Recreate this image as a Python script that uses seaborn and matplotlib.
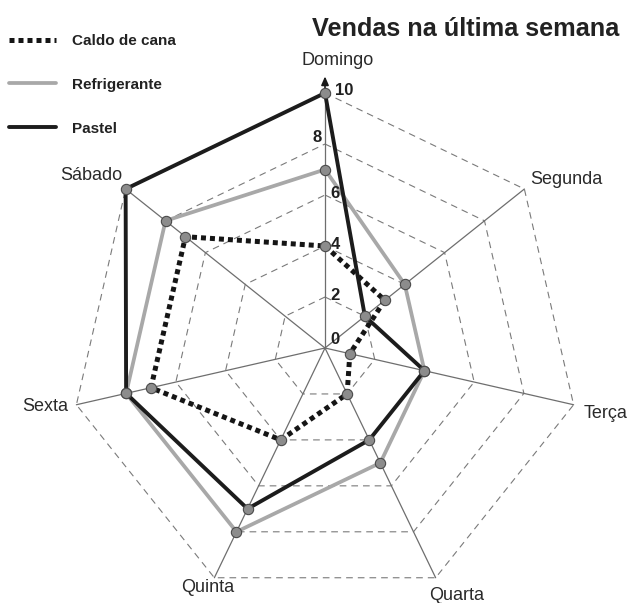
import numpy as np
import pandas as pd
import matplotlib.pyplot as plt
import seaborn as sns
from matplotlib.lines import Line2D

sns.set_style("white")
plt.rcParams['font.family'] = ['Liberation Sans', 'DejaVu Sans']

### Dados
dias = ['Domingo', 'Segunda', 'Terça', 'Quarta', 'Quinta', 'Sexta', 'Sábado']
caldo_de_cana = [4, 3, 1, 2, 4, 7, 7]
refrigerante = [7, 4, 4, 5, 8, 8, 8]
pastel = [10, 2, 4, 4, 7, 8, 10]
niveis = [2, 4, 6, 8, 10]
rotulos_r = [0, 2, 4, 6, 8, 10]

series = {'Caldo de cana': caldo_de_cana,
          'Refrigerante': refrigerante,
          'Pastel': pastel}
estilos = {'Caldo de cana': dict(color='#151515', lw=3.6, ls=(0, (1.0, 0.8))),
           'Refrigerante': dict(color='#a8a8a8', lw=2.7, ls='-'),
           'Pastel': dict(color='#1c1c1c', lw=2.8, ls='-')}

W, H = 635, 603
fig = plt.figure(figsize=(W / 100, H / 100), dpi=100)
cx, cy, R = 325, 348, 255
ax = fig.add_axes([(cx - R) / W, (H - cy - R) / H, 2 * R / W, 2 * R / H], projection='polar')
ax.set_theta_zero_location('N')
ax.set_theta_direction(-1)
ax.set_ylim(0, 10)
ax.grid(False)
ax.set_xticks([])
ax.set_yticks([])
ax.spines['polar'].set_visible(False)
ax.patch.set_alpha(0)

ang = np.arange(len(dias)) * 2 * np.pi / len(dias)
ang_f = np.append(ang, 2 * np.pi)

## aneis tracejados e raios
for lv in niveis:
    ax.plot(ang_f, [lv] * len(ang_f), color='#7a7a7a', lw=0.8,
            ls=(0, (6, 4.5)), clip_on=False, zorder=1)
for a in ang:
    ax.plot([a, a], [0, 10], color='#6e6e6e', lw=0.9, clip_on=False, zorder=1)
ax.annotate('', xy=(0, 10.65), xytext=(0, 9.9),
            arrowprops=dict(arrowstyle='-|>,head_length=0.5,head_width=0.22',
                            color='#1a1a1a', lw=1.2, shrinkA=0, shrinkB=0),
            annotation_clip=False)

## linhas das series
for nome, vals in series.items():
    df = pd.DataFrame({'ang': ang_f, 'valor': list(vals) + [vals[0]]})
    st = estilos[nome]
    sns.lineplot(data=df, x='ang', y='valor', sort=False, estimator=None,
                 color=st['color'], lw=st['lw'], linestyle=st['ls'],
                 ax=ax, legend=False, clip_on=False, zorder=3)
for nome, vals in series.items():
    df = pd.DataFrame({'ang': ang, 'valor': vals})
    sns.scatterplot(data=df, x='ang', y='valor', s=55, color='#8c8c8c',
                    edgecolor='#4a4a4a', linewidth=0.8, ax=ax, legend=False,
                    clip_on=False, zorder=5)
ax.set_xlabel('')
ax.set_ylabel('')

## nomes dos dias
desloc = {'Domingo': ((9, 17), 'center', 'bottom'),
          'Segunda': ((4, 7), 'left', 'center'),
          'Terça': ((7, -6), 'left', 'center'),
          'Quarta': ((15, -13), 'center', 'center'),
          'Quinta': ((-5, -7), 'center', 'center'),
          'Sexta': ((-6, -1), 'right', 'center'),
          'Sábado': ((-25, 10), 'center', 'center')}
for a, d in zip(ang, dias):
    off, ha, va = desloc[d]
    ax.annotate(d, xy=(a, 10), xytext=off, textcoords='offset points',
                ha=ha, va=va, fontsize=13, color='#2a2a2a', annotation_clip=False)

## rotulos do eixo Domingo
for v in rotulos_r:
    if v == 8:
        off, ha = (-2, 5), 'right'
    elif v == 10:
        off, ha = (7, 2), 'left'
    elif v == 0:
        off, ha = (4, 6), 'left'
    else:
        off, ha = (4, 1), 'left'
    ax.annotate(str(v), xy=(0, v), xytext=off, textcoords='offset points',
                ha=ha, va='center', fontsize=12, fontweight='bold',
                color='#202020', annotation_clip=False, zorder=6)

fig.text(466 / W, 1 - 29 / H, 'Vendas na última semana', ha='center', va='center',
         fontsize=18.2, fontweight='bold', color='#222222')

handles = [Line2D([0], [0], color=estilos[n]['color'], lw=estilos[n]['lw'],
                  ls=estilos[n]['ls']) for n in series]
fig.legend(handles, list(series), loc='upper left',
           bbox_to_anchor=(9 / W, 1 - 34 / H), frameon=False,
           prop={'weight': 'bold', 'size': 11}, labelspacing=1.95,
           handlelength=3.1, handletextpad=1.0, borderpad=0, borderaxespad=0,
           labelcolor='#222222')

plt.savefig('out.png', dpi=100)
